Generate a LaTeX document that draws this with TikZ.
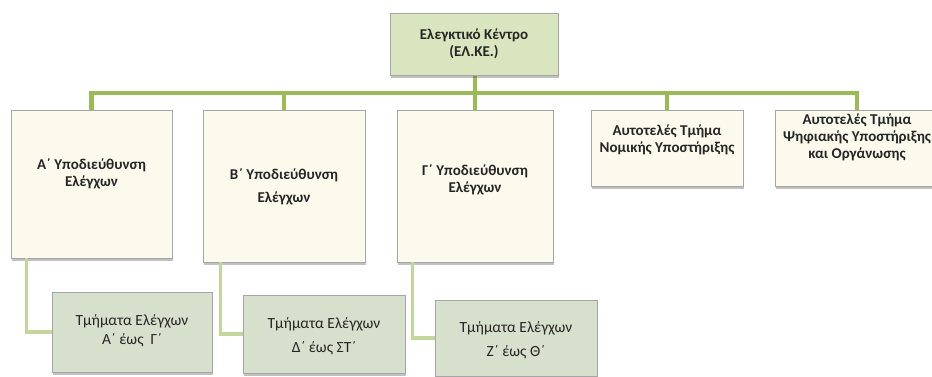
\documentclass[tikz,border=0pt]{standalone}
\usepackage{fontspec}
\setmainfont{Carlito}
\usetikzlibrary{shadows}
\definecolor{busgreen}{RGB}{155,187,89}
\definecolor{linkgreen}{RGB}{195,214,155}
\definecolor{ctrlfill}{RGB}{216,229,190}
\definecolor{subfill}{RGB}{251,250,237}
\definecolor{deptfill}{RGB}{214,224,204}

\begin{document}
\begin{tikzpicture}[x=1pt, y=-1pt,
	boxbase/.style={rectangle, draw=gray!70, line width=.8pt, drop shadow={shadow xshift=1pt, shadow yshift=-3pt, opacity=.35, fill=black!70}},
	ctrlbox/.style={boxbase, fill=ctrlfill, minimum width=168pt, minimum height=62pt},
	subbox/.style={boxbase, fill=subfill, minimum width=160pt, minimum height=150pt},
	secbox/.style={boxbase, fill=subfill, minimum width=156pt, minimum height=76pt},
	deptbox/.style={boxbase, fill=deptfill, minimum width=161pt, minimum height=80pt},
	boldtext/.style={align=center, text=black!85, font=\fontsize{15}{17}\selectfont\bfseries},
	plaintext/.style={align=center, text=black!85, font=\fontsize{15.5}{24}\selectfont},
	bus/.style={line width=4.5pt, busgreen},
	link/.style={line width=3.5pt, linkgreen}
	]
	\useasboundingbox (0,0) rectangle (932,376);

	% connectors first, boxes on top
	\coordinate (busR) at (857,93);
	\coordinate (ctrlS) at (475,75);
	\coordinate (subAN) at (91.5,110);
	\coordinate (subBN) at (284,110);
	\coordinate (subGN) at (475,110);
	\coordinate (secLawN) at (667,110);
	\coordinate (secDigN) at (857,110);
	\draw[bus] (subAN) |- (busR) -- (secDigN);
	\draw[bus] (ctrlS) -- (ctrlS |- busR);
	\draw[bus] (subBN) -- (subBN |- busR);
	\draw[bus] (subGN) -- (subGN |- busR);
	\draw[bus] (secLawN) -- (secLawN |- busR);

	\node[ctrlbox] (ctrl) at (474,44) {};
	\node[boldtext] (ctrl-txt) at (ctrl) {Ελεγκτικό Κέντρο\\(ΕΛ.ΚΕ.)};

	\node[subbox, minimum width=161pt, minimum height=148pt] (subA) at (91.5,184) {};
	\node[subbox, minimum width=162pt, minimum height=152pt] (subB) at (284,186) {};
	\node[subbox, minimum width=156pt, minimum height=152pt] (subG) at (475,186) {};
	\node[secbox, minimum width=152pt] (secLaw) at (667,148) {};
	\node[secbox, minimum width=164pt] (secDig) at (857,148) {};

	\node[boldtext] (subA-txt) at (91.5,173.5) {Α΄ Υποδιεύθυνση\\Ελέγχων};
	\node[boldtext, font=\fontsize{15}{23}\selectfont\bfseries] (subB-txt) at (284,186.5) {Β΄ Υποδιεύθυνση\\Ελέγχων};
	\node[boldtext] (subG-txt) at (475,180) {Γ΄ Υποδιεύθυνση\\Ελέγχων};
	\node[boldtext] (secLaw-txt) at (667,139.5) {Αυτοτελές Τμήμα\\Νομικής Υποστήριξης};
	\node[boldtext] (secDig-txt) at (857,137) {Αυτοτελές Τμήμα\\Ψηφιακής Υποστήριξης\\και Οργάνωσης};

	\node[deptbox, minimum width=160pt, minimum height=80pt] (deptA) at (132,332) {};
	\node[deptbox, minimum width=162pt, minimum height=78pt] (deptB) at (324,334) {};
	\node[deptbox, minimum width=162pt, minimum height=76pt] (deptC) at (516,338) {};

	\draw[link] ([xshift=16pt]subA.south west) |- (deptA.west);
	\draw[link] ([xshift=18pt]subB.south west) |- (deptB.west);
	\draw[link] ([xshift=16pt]subG.south west) |- (deptC.west);

	\node[plaintext, font=\fontsize{15.5}{19}\selectfont] (deptA-txt) at (132,331) {Τμήματα Ελέγχων\\Α΄ έως~~Γ΄};
	\node[plaintext] (deptB-txt) at (324,336) {Τμήματα Ελέγχων\\Δ΄ έως ΣΤ΄};
	\node[plaintext] (deptC-txt) at (516,340.5) {Τμήματα Ελέγχων\\Ζ΄ έως Θ΄};
\end{tikzpicture}
\end{document}
